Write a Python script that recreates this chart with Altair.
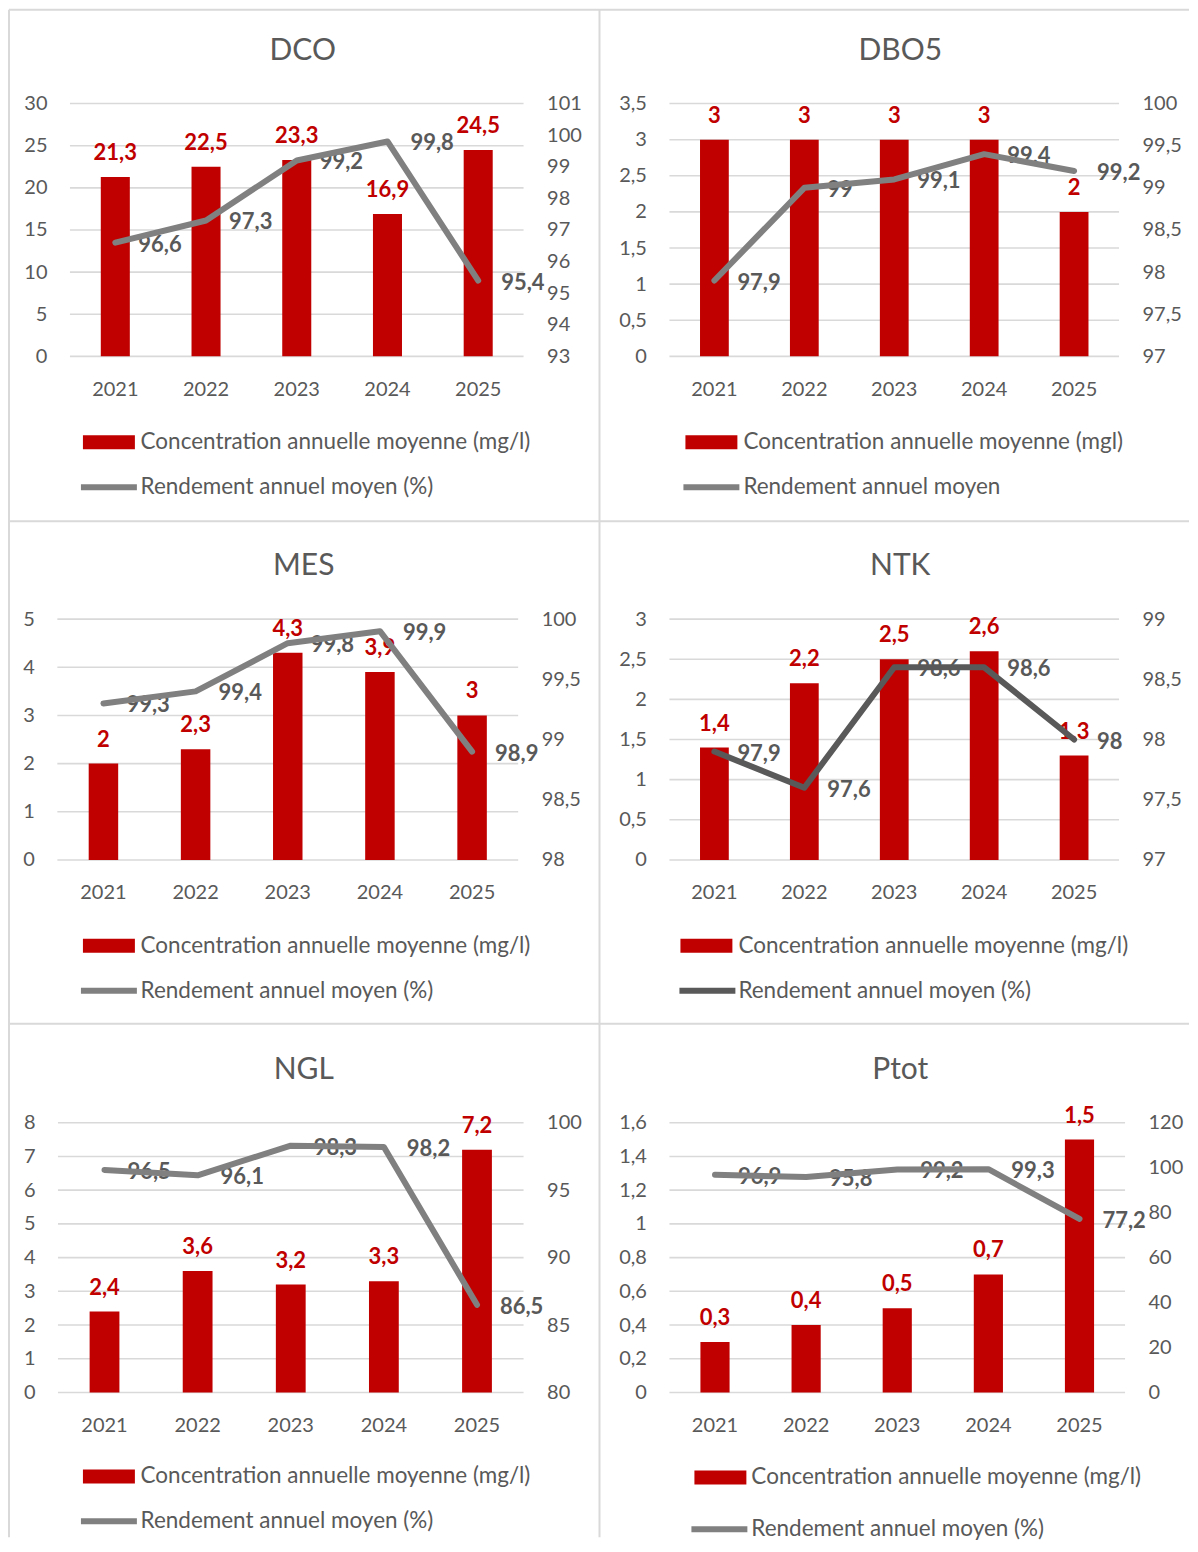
import math
import altair as alt
import pandas as pd

# ---------------- data ----------------
years = ["2021", "2022", "2023", "2024", "2025"]

dco_conc = [21.3, 22.5, 23.3, 16.9, 24.5]
dco_rend = [96.6, 97.3, 99.2, 99.8, 95.4]
dbo5_conc = [3, 3, 3, 3, 2]
dbo5_rend = [97.9, 99.0, 99.1, 99.4, 99.2]
mes_conc = [2, 2.3, 4.3, 3.9, 3]
mes_rend = [99.3, 99.4, 99.8, 99.9, 98.9]
ntk_conc = [1.4, 2.2, 2.5, 2.6, 1.3]
ntk_rend = [97.9, 97.6, 98.6, 98.6, 98.0]
ngl_conc = [2.4, 3.6, 3.2, 3.3, 7.2]
ngl_rend = [96.5, 96.1, 98.3, 98.2, 86.5]
ptot_conc = [0.3, 0.4, 0.5, 0.7, 1.5]
ptot_rend = [96.9, 95.8, 99.2, 99.3, 77.2]

dco_left_ticks = [0, 5, 10, 15, 20, 25, 30]
dco_right_ticks = [93, 94, 95, 96, 97, 98, 99, 100, 101]
dbo5_left_ticks = [0, 0.5, 1, 1.5, 2, 2.5, 3, 3.5]
dbo5_right_ticks = [97, 97.5, 98, 98.5, 99, 99.5, 100]
mes_left_ticks = [0, 1, 2, 3, 4, 5]
mes_right_ticks = [98, 98.5, 99, 99.5, 100]
ntk_left_ticks = [0, 0.5, 1, 1.5, 2, 2.5, 3]
ntk_right_ticks = [97, 97.5, 98, 98.5, 99]
ngl_left_ticks = [0, 1, 2, 3, 4, 5, 6, 7, 8]
ngl_right_ticks = [80, 85, 90, 95, 100]
ptot_left_ticks = [0, 0.2, 0.4, 0.6, 0.8, 1, 1.2, 1.4, 1.6]
ptot_right_ticks = [0, 20, 40, 60, 80, 100, 120]

conc_name = "Concentration annuelle moyenne (mg/l)"
conc_name_dbo5 = "Concentration annuelle moyenne (mgl)"
rend_name = "Rendement annuel moyen (%)"
rend_name_dbo5 = "Rendement annuel moyen"

# ---------------- styles / layout (page pixel coordinates) ----------------
FONT = "Lato"
TXT = "#595959"
RED = "#C00000"
GRAY = "#808080"
DARK = "#595959"
GRID = "#D9D9D9"
TICK_FS = 20
LAB_FS = 22.5
DATA_FS = 22
TITLE_FS = 30

ORIGIN = (8, 8)          # page position of the chart origin
TOTAL_W = 1182
TOTAL_H = 1530

panels = [
    dict(title="DCO", conc=dco_conc, rend=dco_rend, lt=dco_left_ticks, rt=dco_right_ticks,
         cname=conc_name, rname=rend_name, lc=GRAY,
         plot=(70, 103, 524, 356), tc=(303, 50),
         bar=(83, 442), line=(109, 487), tx=140.7),
    dict(title="DBO5", conc=dbo5_conc, rend=dbo5_rend, lt=dbo5_left_ticks, rt=dbo5_right_ticks,
         cname=conc_name_dbo5, rname=rend_name_dbo5, lc=GRAY,
         plot=(670, 103, 1120, 356), tc=(901, 50),
         bar=(686, 442), line=(712, 487), tx=744),
    dict(title="MES", conc=mes_conc, rend=mes_rend, lt=mes_left_ticks, rt=mes_right_ticks,
         cname=conc_name, rname=rend_name, lc=GRAY,
         plot=(57.4, 619, 518.6, 860), tc=(304, 566),
         bar=(83, 946), line=(109, 991), tx=140.7),
    dict(title="NTK", conc=ntk_conc, rend=ntk_rend, lt=ntk_left_ticks, rt=ntk_right_ticks,
         cname=conc_name, rname=rend_name, lc=DARK,
         plot=(670, 619, 1120, 860), tc=(901, 566),
         bar=(681, 946), line=(708, 991), tx=739),
    dict(title="NGL", conc=ngl_conc, rend=ngl_rend, lt=ngl_left_ticks, rt=ngl_right_ticks,
         cname=conc_name, rname=rend_name, lc=GRAY,
         plot=(58, 1123, 524, 1393), tc=(304, 1070),
         bar=(83, 1477), line=(109, 1522), tx=140.7),
    dict(title="Ptot", conc=ptot_conc, rend=ptot_rend, lt=ptot_left_ticks, rt=ptot_right_ticks,
         cname=conc_name, rname=rend_name, lc=GRAY,
         plot=(670, 1123, 1126, 1393), tc=(901, 1070),
         bar=(695, 1478), line=(720, 1530), tx=752),
]

# panel separators (page coords): vertical x positions, horizontal y positions
V_LINES = [9, 600]
H_LINES = [9, 521, 1024]

LABEL_EXPR = "replace(toString(datum.value), '.', ',')"
# legend symbols: paths reach +-2 so that a small symbol "size" draws a wide mark
BAR_PATH = "M-2,-0.54H2V0.54H-2Z"
BAR_SIZE = 26 ** 2          # -> 52 x 14 px
LINE_PATH = "M-2,0H2"
LINE_SIZE = 28 ** 2         # -> 56 px long
LINE_SW = 6


def fmt(v):
    return f"{v:g}".replace(".", ",")


def rx(v):
    return v - ORIGIN[0]


def ry(v):
    return v - ORIGIN[1]


one = pd.DataFrame({"f": [0]})


def entry_size(sym_size, sw):
    # vega legend entry size: max(ceil(sqrt(size) + strokeWidth), labelFontSize)
    return max(math.ceil(math.sqrt(sym_size) + sw), LAB_FS)


def make_panel(p):
    df = pd.DataFrame({
        "year": years,
        "conc": p["conc"],
        "rend": p["rend"],
        "conc_txt": [fmt(v) for v in p["conc"]],
        "rend_txt": [fmt(v) for v in p["rend"]],
        "s_c": [p["cname"]] * len(years),
        "s_r": [p["rname"]] * len(years),
    })
    grid_df = pd.DataFrame({"v": p["lt"]})
    x0, y0, x1, y1 = p["plot"]

    x_axis = alt.Axis(orient="bottom", offset=ry(y1) - TOTAL_H, title=None, labelAngle=0,
                      domain=False, ticks=False, tickSize=0, grid=False, labelPadding=23,
                      labelFont=FONT, labelFontSize=TICK_FS, labelColor=TXT)
    x = alt.X("year:N", sort=years,
              scale=alt.Scale(domain=years, range=[rx(x0), rx(x1)],
                              paddingInner=0.68, paddingOuter=0.34),
              axis=x_axis)
    left_axis = alt.Axis(orient="left", offset=-rx(x0), values=p["lt"], labelExpr=LABEL_EXPR,
                         title=None, grid=False, domain=False, ticks=False, tickSize=0,
                         labelPadding=23, labelFont=FONT, labelFontSize=TICK_FS,
                         labelColor=TXT, labelFlush=False, labelOverlap=False)
    right_axis = alt.Axis(orient="right", offset=rx(x1) - TOTAL_W, values=p["rt"],
                          labelExpr=LABEL_EXPR, title=None, grid=False, domain=False,
                          ticks=False, tickSize=0, labelPadding=23, labelFont=FONT,
                          labelFontSize=TICK_FS, labelColor=TXT, labelFlush=False,
                          labelOverlap=False)
    lscale = alt.Scale(domain=[p["lt"][0], p["lt"][-1]], range=[ry(y1), ry(y0)],
                       nice=False, zero=False)
    rscale = alt.Scale(domain=[p["rt"][0], p["rt"][-1]], range=[ry(y1), ry(y0)],
                       nice=False, zero=False)

    # legend geometry (relative to chart origin)
    bs = entry_size(BAR_SIZE, 0)
    bx, bcy = p["bar"]
    bar_w = 2 * math.sqrt(BAR_SIZE)
    bar_lx = rx(bx) + bar_w / 2 - bs / 2        # symbol centre = lx + bs/2
    bar_ly = ry(bcy) - bs / 2
    bar_off = rx(p["tx"]) - bar_lx - bs

    ls = entry_size(LINE_SIZE, LINE_SW)
    lcx, lcy = p["line"]
    line_lx = rx(lcx) - ls / 2
    line_ly = ry(lcy) - ls / 2
    line_off = rx(p["tx"]) - line_lx - ls

    title = alt.Chart(one).mark_text(
        text=p["title"], align="center", baseline="middle", font=FONT,
        fontSize=TITLE_FS, color=TXT
    ).encode(x=alt.value(rx(p["tc"][0])), y=alt.value(ry(p["tc"][1])))

    grid = alt.Chart(grid_df).mark_rule(color=GRID, strokeWidth=1.6).encode(
        y=alt.Y("v:Q", scale=lscale, axis=left_axis),
        x=alt.value(rx(x0)), x2=alt.value(rx(x1)),
    )

    base = alt.Chart(df)
    bars = base.mark_bar().encode(
        x=x, y=alt.Y("conc:Q", scale=lscale, axis=left_axis),
        color=alt.Color("s_c:N", scale=alt.Scale(domain=[p["cname"]], range=[RED]),
                        legend=alt.Legend(title=None, orient="none", legendX=bar_lx, legendY=bar_ly,
                                          padding=0, symbolType=BAR_PATH,
                                          symbolSize=BAR_SIZE, symbolStrokeWidth=0,
                                          labelFont=FONT, labelFontSize=LAB_FS, labelColor=TXT,
                                          labelOffset=bar_off, labelLimit=800)),
    )
    bar_text = base.mark_text(baseline="middle", dy=-24, font=FONT, fontSize=DATA_FS,
                              fontWeight="bold", color=RED).encode(
        x=x, y=alt.Y("conc:Q", scale=lscale, axis=left_axis), text="conc_txt:N")

    yr = alt.Y("rend:Q", scale=rscale, axis=right_axis)
    line = base.mark_line(strokeWidth=LINE_SW, strokeCap="round", strokeJoin="round").encode(
        x=x, y=yr,
        color=alt.Color("s_r:N", scale=alt.Scale(domain=[p["rname"]], range=[p["lc"]]),
                        legend=alt.Legend(title=None, orient="none", legendX=line_lx, legendY=line_ly,
                                          padding=0, symbolType=LINE_PATH,
                                          symbolSize=LINE_SIZE, symbolStrokeWidth=LINE_SW,
                                          labelFont=FONT, labelFontSize=LAB_FS, labelColor=TXT,
                                          labelOffset=line_off, labelLimit=800)),
    )
    line_text = base.mark_text(align="left", baseline="middle", dx=23, dy=2, font=FONT,
                               fontSize=DATA_FS, fontWeight="bold", color=DARK).encode(
        x=x, y=yr, text="rend_txt:N")

    return alt.layer(
        title,
        alt.layer(grid, bars, bar_text),
        alt.layer(line_text, line),
    ).resolve_scale(y="independent", color="independent")


decor = []
for vx in V_LINES:
    decor.append(alt.Chart(one).mark_rule(color=GRID, strokeWidth=2).encode(
        x=alt.value(rx(vx)), y=alt.value(1), y2=alt.value(TOTAL_H)))
for hy in H_LINES:
    decor.append(alt.Chart(one).mark_rule(color=GRID, strokeWidth=2).encode(
        y=alt.value(ry(hy)), x=alt.value(1), x2=alt.value(TOTAL_W)))

panel_charts = [make_panel(p) for p in panels]

chart = alt.layer(*decor, *panel_charts).resolve_scale(
    x="independent", y="independent", color="independent"
).properties(width=TOTAL_W, height=TOTAL_H, padding=0).configure(
    font=FONT,
    background="white",
    view=alt.ViewConfig(stroke="transparent", strokeWidth=0),
    axis=alt.AxisConfig(domain=False),
)

chart.save("out.html", embed_options={"renderer": "svg", "actions": False})
